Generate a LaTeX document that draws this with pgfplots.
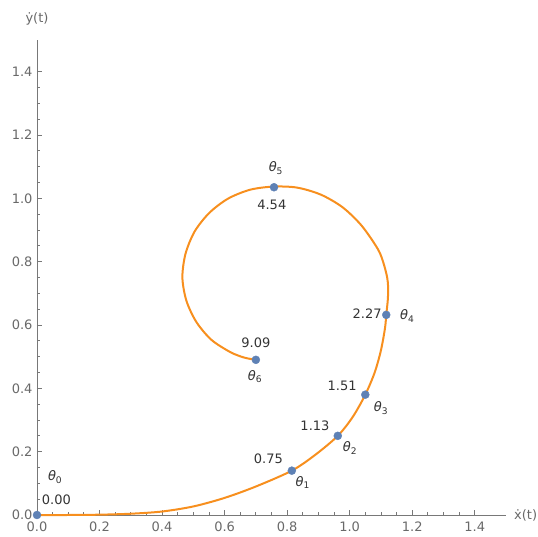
\documentclass[border=0pt]{standalone}
\usepackage{pgfplots}
\pgfplotsset{compat=1.18}
\usepackage{fontspec}
\setmainfont{DejaVu Sans}
\definecolor{curveor}{RGB}{247,143,30}
\definecolor{dotblue}{RGB}{94,129,181}
\definecolor{axgray}{RGB}{120,120,120}
\definecolor{lblgray}{RGB}{105,105,105}
\newcommand{\fs}{\fontsize{13}{15}\selectfont}
\newcommand{\thl}[1]{\textit{θ}\textsubscript{#1}}
\begin{document}
\begin{tikzpicture}
\useasboundingbox (-37pt,-22pt) rectangle (501pt,515pt);
\begin{axis}[
  scale only axis, width=469pt, height=475pt,
  xmin=0, xmax=1.5, ymin=0, ymax=1.5,
  axis lines=left, axis line style={-, axgray, line width=0.8pt},
  xtick={0,0.2,...,1.4}, ytick={0,0.2,...,1.4},
  minor x tick num=3, minor y tick num=3,
  tick align=inside, major tick length=5pt, minor tick length=3pt,
  tick style={axgray, line width=0.8pt},
  ticklabel style={font=\fs, text=lblgray},
  /pgf/number format/assume math mode=true,
  xticklabel style={yshift=-3pt, /pgf/number format/.cd, fixed, fixed zerofill, precision=1},
  yticklabel style={xshift=-1pt, /pgf/number format/.cd, fixed, fixed zerofill, precision=1},
  clip=false,
]
\addplot[curveor, line width=2pt, smooth, tension=0.5] coordinates {
(0,0) (0.1,0.0) (0.2,0.001) (0.3,0.004) (0.4,0.011) (0.5,0.027) (0.6,0.054)
(0.7,0.09) (0.815,0.14) (0.89,0.19) (0.962,0.25) (1.01,0.31) (1.05,0.38)
(1.08,0.45) (1.10,0.52) (1.113,0.59) (1.117,0.632) (1.122,0.68) (1.123,0.718)
(1.12,0.75) (1.108,0.796) (1.09,0.84) (1.038,0.914) (0.977,0.972) (0.907,1.012) (0.831,1.034)
(0.755,1.037) (0.681,1.027) (0.611,0.999) (0.551,0.954) (0.504,0.895)
(0.475,0.825) (0.465,0.75) (0.478,0.676) (0.510,0.609) (0.558,0.553)
(0.619,0.514) (0.663,0.497) (0.700,0.490)
};
\addplot[only marks, mark=*, mark size=4pt, dotblue] coordinates {
(0,0) (0.815,0.14) (0.962,0.25) (1.05,0.38) (1.117,0.632) (0.758,1.035) (0.70,0.49)
};
\begin{scope}[every node/.style={font=\fs, text=black!80}]
\node at (axis cs:0.058,0.12) {\thl{0}};
\node at (axis cs:0.062,0.047) {0.00};
\node at (axis cs:0.74,0.176) {0.75};
\node at (axis cs:0.85,0.102) {\thl{1}};
\node at (axis cs:0.889,0.281) {1.13};
\node at (axis cs:1.001,0.211) {\thl{2}};
\node at (axis cs:0.976,0.408) {1.51};
\node at (axis cs:1.100,0.337) {\thl{3}};
\node at (axis cs:1.056,0.637) {2.27};
\node at (axis cs:1.184,0.629) {\thl{4}};
\node at (axis cs:0.764,1.095) {\thl{5}};
\node at (axis cs:0.751,0.979) {4.54};
\node at (axis cs:0.700,0.545) {9.09};
\node at (axis cs:0.697,0.437) {\thl{6}};
\end{scope}
\node[font=\fs, text=lblgray, anchor=west, inner sep=1pt] at ([xshift=7pt]axis cs:1.5,0) {ẋ(t)};
\node[font=\fs, text=lblgray, anchor=south] at ([yshift=11pt]axis cs:0,1.5) {ẏ(t)};
\end{axis}
\end{tikzpicture}
\end{document}
